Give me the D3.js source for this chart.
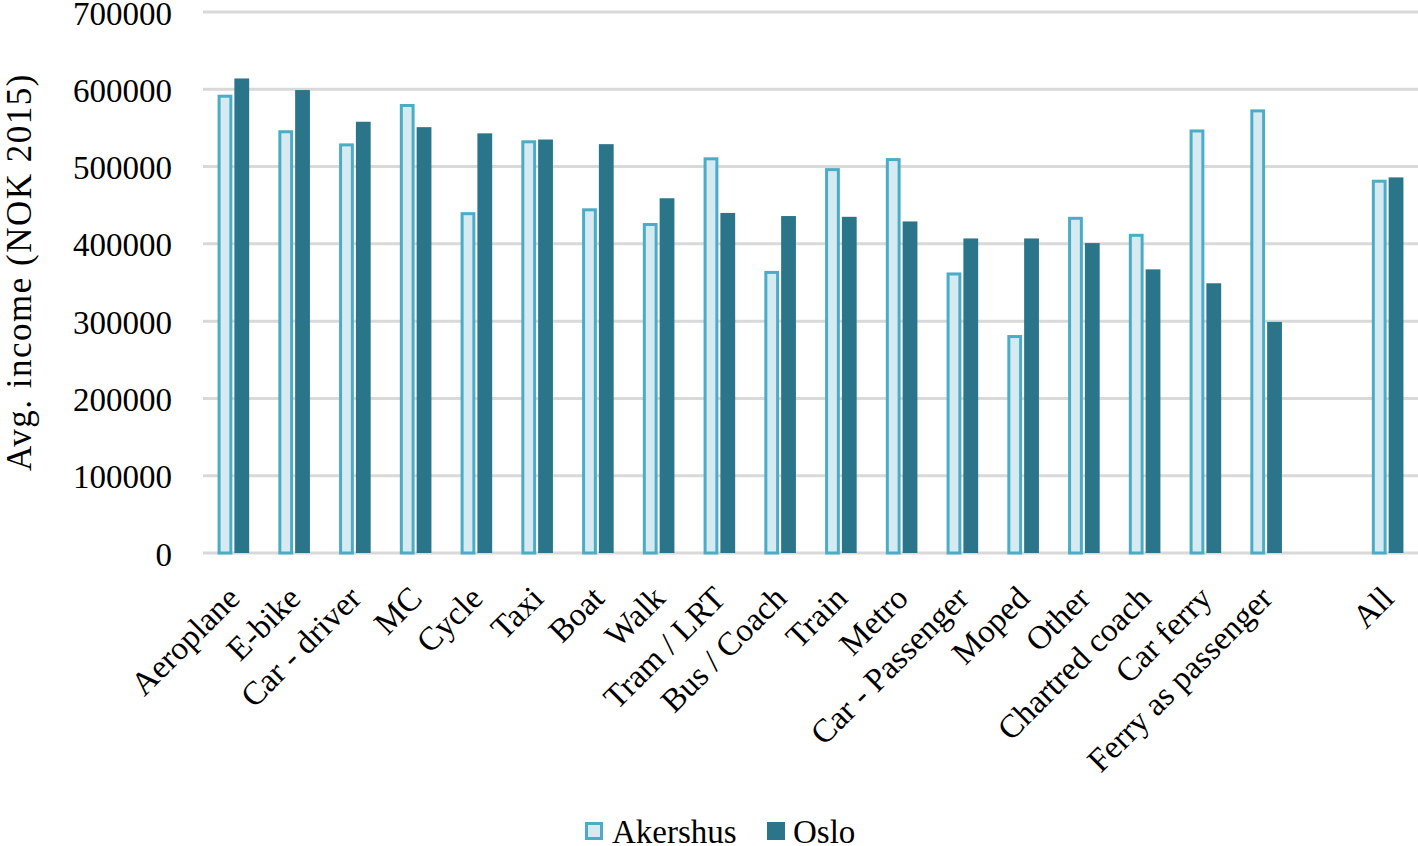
<!DOCTYPE html>
<html>
<head>
<meta charset="utf-8">
<script src="https://cdn.jsdelivr.net/npm/d3@7"></script>
<style>
  body { margin: 0; background: #fff; }
  text { font-family: "Liberation Serif", "Times New Roman", serif; fill: #000; }
</style>
</head>
<body>
<svg id="chart"></svg>
<script>
// categories and values
const modes = ["Aeroplane", "E-bike", "Car - driver", "MC", "Cycle", "Taxi", "Boat", "Walk",
  "Tram / LRT", "Bus / Coach", "Train", "Metro", "Car - Passenger", "Moped", "Other",
  "Chartred coach", "Car ferry", "Ferry as passenger", "", "All"];
const akershus = [593000, 547000, 530000, 581000, 441000, 534000, 446000, 427000,
  512000, 365000, 498000, 511000, 363000, 282000, 435000, 413000, 548000, 574000, null, 483000];
const oslo = [614000, 599000, 558000, 551000, 543000, 535000, 529000, 459000,
  440000, 436000, 435000, 429000, 407000, 407000, 401000, 367000, 349000, 299000, null, 486000];
const yTicks = [0, 100000, 200000, 300000, 400000, 500000, 600000, 700000];
const seriesNames = ["Akershus", "Oslo"];

const width = 1418, height = 846;
const marginLeft = 203, marginRight = 0, marginTop = 12, bottomY = 553;

const svg = d3.select("#chart").attr("width", width).attr("height", height);

const x = d3.scaleBand()
  .domain(d3.range(modes.length))
  .range([marginLeft, width - marginRight])
  .paddingInner(0.48)
  .paddingOuter(0.24);

const x1 = d3.scaleBand().domain([0, 1]).range([0, x.bandwidth()]).paddingInner(0.12);

const y = d3.scaleLinear().domain([0, 700000]).range([bottomY, marginTop]);

// gridlines
svg.append("g")
  .selectAll("line")
  .data(yTicks)
  .enter().append("line")
  .attr("x1", marginLeft)
  .attr("x2", width - marginRight)
  .attr("y1", d => y(d))
  .attr("y2", d => y(d))
  .attr("stroke", "#d9d9d9")
  .attr("stroke-width", 3);

// y tick labels
svg.append("g")
  .selectAll("text")
  .data(yTicks)
  .enter().append("text")
  .attr("x", 172)
  .attr("y", d => y(d) + 1)
  .attr("dy", "0.35em")
  .attr("text-anchor", "end")
  .attr("font-size", "33px")
  .text(d => d);

// y axis title
svg.append("text")
  .attr("transform", `translate(31, 272) rotate(-90)`)
  .attr("text-anchor", "middle")
  .attr("font-size", "35px")
  .attr("letter-spacing", "1.5px")
  .text("Avg. income (NOK 2015)");

const rows = modes.map((m, i) => ({ i, ak: akershus[i], os: oslo[i] }));

// Akershus bars
svg.append("g")
  .selectAll("rect")
  .data(rows.filter(d => d.ak != null))
  .enter().append("rect")
  .attr("x", d => x(d.i) + x1(0) + 1.5)
  .attr("y", d => y(d.ak) + 1.5)
  .attr("width", x1.bandwidth() - 3)
  .attr("height", d => bottomY - y(d.ak) - 1.5)
  .attr("fill", "#d5eaf1")
  .attr("stroke", "#4bacc6")
  .attr("stroke-width", 3);

// Oslo bars
svg.append("g")
  .selectAll("rect")
  .data(rows.filter(d => d.os != null))
  .enter().append("rect")
  .attr("x", d => x(d.i) + x1(1))
  .attr("y", d => y(d.os))
  .attr("width", x1.bandwidth())
  .attr("height", d => bottomY - y(d.os))
  .attr("fill", "#2a758a");

// x labels, rotated
svg.append("g")
  .selectAll("text")
  .data(rows.filter(d => modes[d.i] !== ""))
  .enter().append("text")
  .attr("transform", d => `translate(${x(d.i) + x.bandwidth() / 2}, 592) rotate(-45)`)
  .attr("text-anchor", "end")
  .attr("dy", "0.35em")
  .attr("font-size", "33px")
  .text(d => modes[d.i]);

// legend
const legend = svg.append("g");
const legendX = [585, 767];
seriesNames.forEach((name, i) => {
  const g = legend.append("g").attr("transform", `translate(${legendX[i]}, 822)`);
  if (i === 0) {
    g.append("rect").attr("x", 1.5).attr("y", 1.5).attr("width", 15).attr("height", 15)
      .attr("fill", "#d5eaf1").attr("stroke", "#4bacc6").attr("stroke-width", 3);
  } else {
    g.append("rect").attr("x", 0).attr("y", 0).attr("width", 18).attr("height", 18)
      .attr("fill", "#2a758a");
  }
  g.append("text")
    .attr("x", i === 0 ? 27 : 26)
    .attr("y", 9)
    .attr("dy", "0.35em")
    .attr("font-size", "33px")
    .text(name);
});
</script>
</body>
</html>
